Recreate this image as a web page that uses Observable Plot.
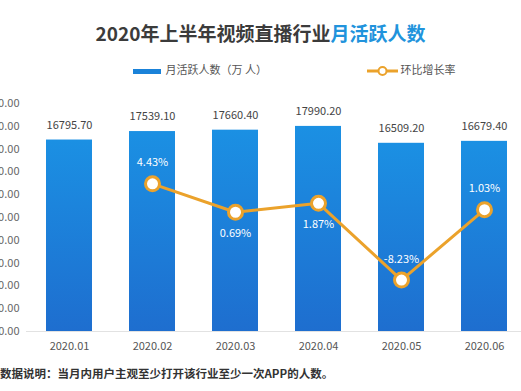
<!DOCTYPE html>
<html>
<head>
<meta charset="utf-8">
<script src="https://cdn.jsdelivr.net/npm/d3@7"></script>
<script src="https://cdn.jsdelivr.net/npm/@observablehq/plot@0.6"></script>
<style>
  html, body { margin: 0; padding: 0; background: #fff; }
  body { font-family: "Noto Sans CJK SC", "Noto Sans", sans-serif; }
  #wrap { position: relative; width: 521px; height: 391px; overflow: hidden; }
  #chart { position: absolute; left: 0; top: 0; }
  .title { position: absolute; left: 0; width: 521px; top: 22px; text-align: center;
           font-size: 19px; line-height: 22px; font-weight: bold; color: #3b3b3b; }
  .title .hl { color: #2193dc; }
  .legend { position: absolute; top: 61px; font-size: 11px; line-height: 16px; color: #555; white-space: nowrap; }
  .legend svg { vertical-align: middle; }
  .foot { position: absolute; left: 0; top: 364px; font-size: 11.5px; line-height: 18px; font-weight: bold; color: #333; white-space: nowrap; }
</style>
</head>
<body>
<div id="wrap">
  <div id="chart"></div>
  <div class="title">2020年上半年视频直播行业<span class="hl">月活跃人数</span></div>
  <div class="legend" style="left:133px">
    <svg width="28" height="16"><rect x="0" y="6" width="28" height="5" fill="#1a82d9"></rect></svg>
    <span style="margin-left:2px">月活跃人数（万 人）</span>
  </div>
  <div class="legend" style="left:367px">
    <svg width="31" height="16"><line x1="0" x2="31" y1="8" y2="8" stroke="#eba22b" stroke-width="3"></line><circle cx="15.5" cy="8" r="4" fill="#fff" stroke="#eba22b" stroke-width="2"></circle></svg>
    <span>环比增长率</span>
  </div>
  <div class="foot">数据说明：当月内用户主观至少打开该行业至少一次APP的人数。</div>
</div>
<script>
// ---- data ----
const months = ["2020.01", "2020.02", "2020.03", "2020.04", "2020.05", "2020.06"];
const mau = [16795.70, 17539.10, 17660.40, 17990.20, 16509.20, 16679.40];
const growth = [null, 4.43, 0.69, 1.87, -8.23, 1.03];
const yTicks = [0, 2000, 4000, 6000, 8000, 10000, 12000, 14000, 16000, 18000, 20000];
const growthDomain = [-15, 15];

// ---- styling choices ----
const labelBelow = new Set(["2020.03", "2020.04"]);
const orange = "#eba22b";

const rows = months.map((m, i) => ({ month: m, mau: mau[i], growth: growth[i] }));
const gRows = rows.filter(d => d.growth != null);
// secondary axis: map growth (%) onto the primary y domain
const g2y = d3.scaleLinear().domain(growthDomain).range([0, 20000]);
const fmt2 = v => v.toFixed(2);

const plot = Plot.plot({
  width: 521,
  height: 391,
  marginTop: 103,
  marginBottom: 60,
  marginLeft: 26,
  marginRight: 0,
  style: { fontFamily: "'Noto Sans CJK SC', 'Noto Sans', sans-serif", fontSize: "11px", background: "transparent", overflow: "hidden" },
  x: { domain: months, range: [26, 527], paddingInner: 0.45, paddingOuter: 0.23, label: null },
  y: { domain: [0, 20000], label: null },
  marks: [
    Plot.axisY({ ticks: yTicks, tickFormat: fmt2, tickSize: 0, tickPadding: 7, fill: "#666", fontSize: 11, label: null }),
    Plot.axisX({ tickSize: 0, tickPadding: 11, fill: "#555", fontSize: 11, label: null }),
    Plot.barY(rows, { x: "month", y: "mau", fill: "url(#barGrad)" }),
    Plot.ruleY([0], { stroke: "#e2e2e2", strokeWidth: 1 }),
    Plot.text(rows, { x: "month", y: "mau", text: d => fmt2(d.mau), dy: -15, fill: "#444", fontSize: 11 }),
    Plot.lineY(gRows, { x: "month", y: d => g2y(d.growth), stroke: orange, strokeWidth: 3 }),
    Plot.dot(gRows, { x: "month", y: d => g2y(d.growth), r: 7, fill: "#fff", stroke: orange, strokeWidth: 3 }),
    Plot.text(gRows, { x: "month", y: d => g2y(d.growth), text: d => fmt2(d.growth) + "%",
      fill: "#fff", fontSize: 11, filter: d => !labelBelow.has(d.month), dy: -21 }),
    Plot.text(gRows, { x: "month", y: d => g2y(d.growth), text: d => fmt2(d.growth) + "%",
      fill: "#fff", fontSize: 11, filter: d => labelBelow.has(d.month), dy: 21 })
  ]
});

const ns = "http://www.w3.org/2000/svg";
const defs = document.createElementNS(ns, "defs");
const grad = document.createElementNS(ns, "linearGradient");
grad.setAttribute("id", "barGrad");
grad.setAttribute("x1", "0"); grad.setAttribute("y1", "0");
grad.setAttribute("x2", "0"); grad.setAttribute("y2", "1");
[["0%", "#1b90e3"], ["100%", "#1e6ecf"]].forEach(([o, c]) => {
  const s = document.createElementNS(ns, "stop");
  s.setAttribute("offset", o); s.setAttribute("stop-color", c);
  grad.appendChild(s);
});
defs.appendChild(grad);
plot.insertBefore(defs, plot.firstChild);
document.getElementById("chart").appendChild(plot);
</script>
</body>
</html>
